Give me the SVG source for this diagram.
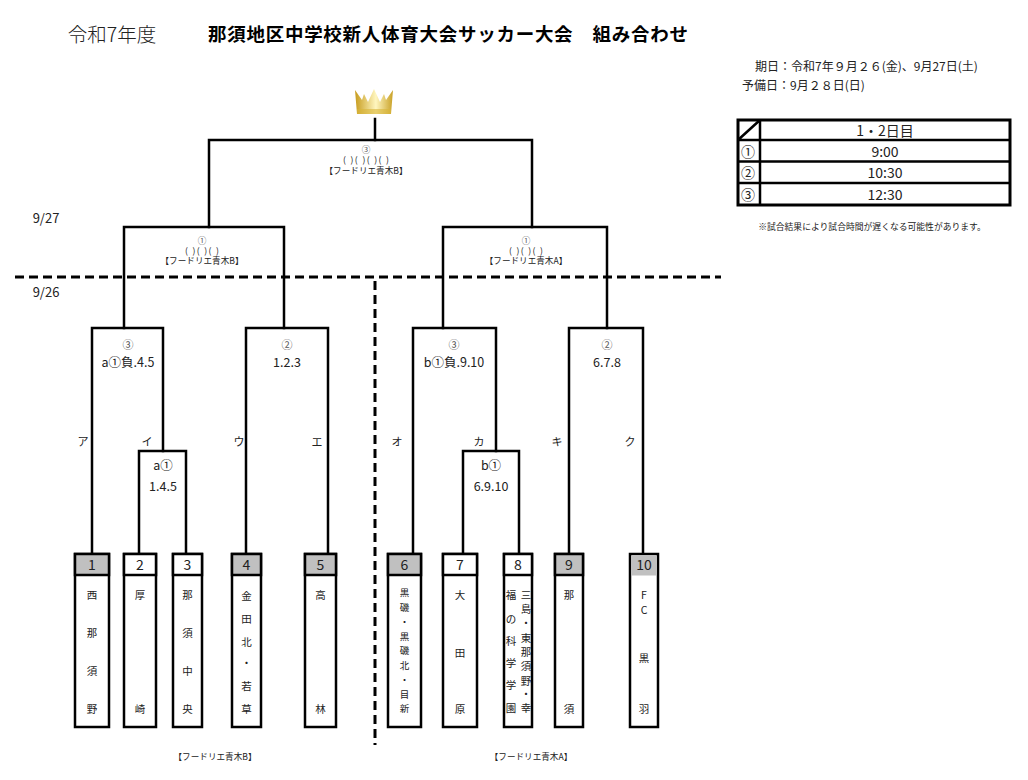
<svg xmlns="http://www.w3.org/2000/svg" width="1028" height="780" viewBox="0 0 1028 780">
<style>
text{font-family:"Noto Sans CJK JP","Noto Sans",sans-serif;fill:#222;text-anchor:middle;dominant-baseline:central}
.ln{fill:none;stroke:#000;stroke-width:2.5;stroke-linecap:square}
.dash{fill:none;stroke:#000;stroke-width:3;stroke-dasharray:9 5}
.box{fill:#fff;stroke:#000;stroke-width:2.5}
.hd{stroke:#000;stroke-width:2.5}
.g{fill:#c0c0c0}
.w{fill:#fff}
.num{font-size:14px}
.nm{font-size:10.5px}
.sm{font-size:9.5px}
.tiny{font-size:8.6px}
.mt{font-size:12.5px}
.mc{font-size:11px;fill:#555}
.kt{font-size:11px}
.circ{fill:#555}
.tb{font-size:14px}
</style>
<defs>
<linearGradient id="gold" x1="0" y1="0" x2="1" y2="0">
<stop offset="0" stop-color="#c79c1e"/>
<stop offset="0.55" stop-color="#fff6bf"/>
<stop offset="1" stop-color="#c9a126"/>
</linearGradient>
</defs>

<g id="header">
<text x="112" y="33" style="font-size:19.5px;font-weight:300">令和7年度</text>
<text x="448" y="33" textLength="480" lengthAdjust="spacing" style="font-size:18.5px;font-weight:bold;fill:#000">那須地区中学校新人体育大会サッカー大会　組み合わせ</text>
<text x="755" y="65" style="font-size:12px;text-anchor:start">期日：令和7年９月２６(金)、9月27日(土)</text>
<text x="742" y="84" style="font-size:12px;text-anchor:start">予備日：9月２８日(日)</text>
</g>

<g id="schedule">
<rect x="738" y="120" width="272" height="85" fill="#fff" stroke="#000" stroke-width="3"/>
<path d="M760,120V205M738,140H1010M738,161.5H1010M738,183H1010M738,140L760,120" fill="none" stroke="#000" stroke-width="2.5"/>
<text class="tb" x="885" y="130">1・2日目</text>
<text class="tb" x="748" y="151">①</text><text class="tb" x="885" y="151">9:00</text>
<text class="tb" x="748" y="172">②</text><text class="tb" x="885" y="172">10:30</text>
<text class="tb" x="748" y="194">③</text><text class="tb" x="885" y="194">12:30</text>
<text x="872" y="226" style="font-size:8.8px">※試合結果により試合時間が遅くなる可能性があります。</text>
</g>

<g id="crown">
<path d="M357,114L355,90L362,100L364,94L368,102L374,89L380,102L384,94L386,100L393,90L391,114Z" fill="url(#gold)"/>
<rect x="357" y="109" width="34" height="5" fill="#d9b53a" opacity="0.6"/>
</g>

<g id="dates">
<text x="46" y="217" style="font-size:13px">9/27</text>
<text x="46" y="291" style="font-size:13px">9/26</text>
</g>

<g id="connectors">
<path class="ln" d="M375,119V140"/>
<path class="ln" d="M209,227V140H532V227"/>
<path class="ln" d="M124,328V227H284V328"/>
<path class="ln" d="M443,328V227H607V328"/>
<path class="ln" d="M92,554V328H163V451"/>
<path class="ln" d="M139,554V451H186V554"/>
<path class="ln" d="M246,554V328H328V554"/>
<path class="ln" d="M413,554V328H496V451"/>
<path class="ln" d="M463,554V451H519V554"/>
<path class="ln" d="M569,554V328H643V554"/>
<path class="dash" d="M15,277H721"/>
<path class="dash" d="M375,281V745"/>
</g>

<g id="match-final">
<text class="tiny circ" x="366" y="149">③</text>
<text class="tiny" x="366" y="159" textLength="46" lengthAdjust="spacing" xml:space="preserve">( )( )( )( )</text>
<text class="tiny" x="366" y="170">【フードリエ青木B】</text>
</g>
<g id="match-semi-left">
<text class="tiny circ" x="202" y="240">①</text>
<text class="tiny" x="202" y="250" textLength="34" lengthAdjust="spacing" xml:space="preserve">( )( )( )</text>
<text class="tiny" x="202" y="260">【フードリエ青木B】</text>
</g>
<g id="match-semi-right">
<text class="tiny circ" x="526" y="240">①</text>
<text class="tiny" x="526" y="250" textLength="34" lengthAdjust="spacing" xml:space="preserve">( )( )( )</text>
<text class="tiny" x="526" y="260">【フードリエ青木A】</text>
</g>
<g id="match-a3">
<text class="mc" x="128" y="344">③</text>
<text class="mt" x="128" y="361">a①負.4.5</text>
</g>
<g id="match-a1">
<text class="mt" x="163" y="464">a①</text>
<text class="mt" x="163" y="485">1.4.5</text>
</g>
<g id="match-l2">
<text class="mc" x="287" y="344">②</text>
<text class="mt" x="287" y="361">1.2.3</text>
</g>
<g id="match-b3">
<text class="mc" x="454" y="344">③</text>
<text class="mt" x="454" y="361">b①負.9.10</text>
</g>
<g id="match-b1">
<text class="mt" x="491" y="464">b①</text>
<text class="mt" x="491" y="485">6.9.10</text>
</g>
<g id="match-r2">
<text class="mc" x="607" y="344">②</text>
<text class="mt" x="607" y="361">6.7.8</text>
</g>
<g id="slots">
<text class="kt" x="83" y="441">ア</text>
<text class="kt" x="147" y="441">イ</text>
<text class="kt" x="239" y="441">ウ</text>
<text class="kt" x="317" y="441">エ</text>
<text class="kt" x="397" y="441">オ</text>
<text class="kt" x="479" y="441">カ</text>
<text class="kt" x="557" y="441">キ</text>
<text class="kt" x="630" y="441">ク</text>
</g>

<g id="team1">
<rect class="box" x="75" y="554" width="34" height="173"/>
<rect class="g hd" x="75" y="554" width="34" height="21"/>
<text class="num" x="92" y="564">1</text>
<text class="nm" x="92" y="594">西</text><text class="nm" x="92" y="632">那</text><text class="nm" x="92" y="670">須</text><text class="nm" x="92" y="708">野</text>
</g>
<g id="team2">
<rect class="box" x="124" y="554" width="32" height="173"/>
<rect class="w hd" x="124" y="554" width="32" height="21"/>
<text class="num" x="140" y="564">2</text>
<text class="nm" x="140" y="594">厚</text><text class="nm" x="140" y="708">崎</text>
</g>
<g id="team3">
<rect class="box" x="173" y="554" width="29" height="173"/>
<rect class="w hd" x="173" y="554" width="29" height="21"/>
<text class="num" x="187.5" y="564">3</text>
<text class="nm" x="187.5" y="594">那</text><text class="nm" x="187.5" y="632">須</text><text class="nm" x="187.5" y="670">中</text><text class="nm" x="187.5" y="708">央</text>
</g>
<g id="team4">
<rect class="box" x="232" y="554" width="29" height="173"/>
<rect class="g hd" x="232" y="554" width="29" height="21"/>
<text class="num" x="246.5" y="564">4</text>
<text class="nm" x="246.5" y="595">金</text><text class="nm" x="246.5" y="618">田</text><text class="nm" x="246.5" y="641">北</text><text class="nm" x="246.5" y="662">・</text><text class="nm" x="246.5" y="685">若</text><text class="nm" x="246.5" y="708">草</text>
</g>
<g id="team5">
<rect class="box" x="305" y="554" width="31" height="173"/>
<rect class="g hd" x="305" y="554" width="31" height="21"/>
<text class="num" x="320.5" y="564">5</text>
<text class="nm" x="320.5" y="594">高</text><text class="nm" x="320.5" y="708">林</text>
</g>
<g id="team6">
<rect class="box" x="388" y="554" width="33" height="173"/>
<rect class="g hd" x="388" y="554" width="33" height="21"/>
<text class="num" x="404.5" y="564">6</text>
<text class="sm" x="404.5" y="592">黒</text><text class="sm" x="404.5" y="606.5">磯</text><text class="sm" x="404.5" y="621">・</text><text class="sm" x="404.5" y="635.5">黒</text><text class="sm" x="404.5" y="650">磯</text><text class="sm" x="404.5" y="664.5">北</text><text class="sm" x="404.5" y="679">・</text><text class="sm" x="404.5" y="693.5">目</text><text class="sm" x="404.5" y="708">新</text>
</g>
<g id="team7">
<rect class="box" x="443" y="554" width="34" height="173"/>
<rect class="w hd" x="443" y="554" width="34" height="21"/>
<text class="num" x="460" y="564">7</text>
<text class="nm" x="460" y="594">大</text><text class="nm" x="460" y="652">田</text><text class="nm" x="460" y="708">原</text>
</g>
<g id="team8">
<rect class="box" x="504" y="554" width="28" height="173"/>
<rect class="w hd" x="504" y="554" width="28" height="21"/>
<text class="num" x="518" y="564">8</text>
<text class="nm" x="526" y="594">三</text><text class="nm" x="526" y="608">島</text><text class="nm" x="526" y="622">・</text><text class="nm" x="526" y="637">東</text><text class="nm" x="526" y="651">那</text><text class="nm" x="526" y="665">須</text><text class="nm" x="526" y="680">野</text><text class="nm" x="526" y="693">・</text><text class="nm" x="526" y="707">幸</text>
<text class="nm" x="511" y="594">福</text><text class="nm" x="511" y="618">の</text><text class="nm" x="511" y="640">科</text><text class="nm" x="511" y="662">学</text><text class="nm" x="511" y="684">学</text><text class="nm" x="511" y="707">園</text>
</g>
<g id="team9">
<rect class="box" x="555" y="554" width="28" height="173"/>
<rect class="g hd" x="555" y="554" width="28" height="21"/>
<text class="num" x="569" y="564">9</text>
<text class="nm" x="569" y="594">那</text><text class="nm" x="569" y="708">須</text>
</g>
<g id="team10">
<rect class="box" x="630" y="554" width="28" height="173"/>
<rect class="g" x="631.5" y="555.5" width="25" height="20"/>
<text class="num" x="644" y="564">10</text>
<text class="nm" x="644" y="594">F</text><text class="nm" x="644" y="609">C</text><text class="nm" x="644" y="657">黒</text><text class="nm" x="644" y="708">羽</text>
</g>

<g id="venues">
<text class="tiny" x="215" y="756">【フードリエ青木B】</text>
<text class="tiny" x="531" y="756">【フードリエ青木A】</text>
</g>
</svg>
